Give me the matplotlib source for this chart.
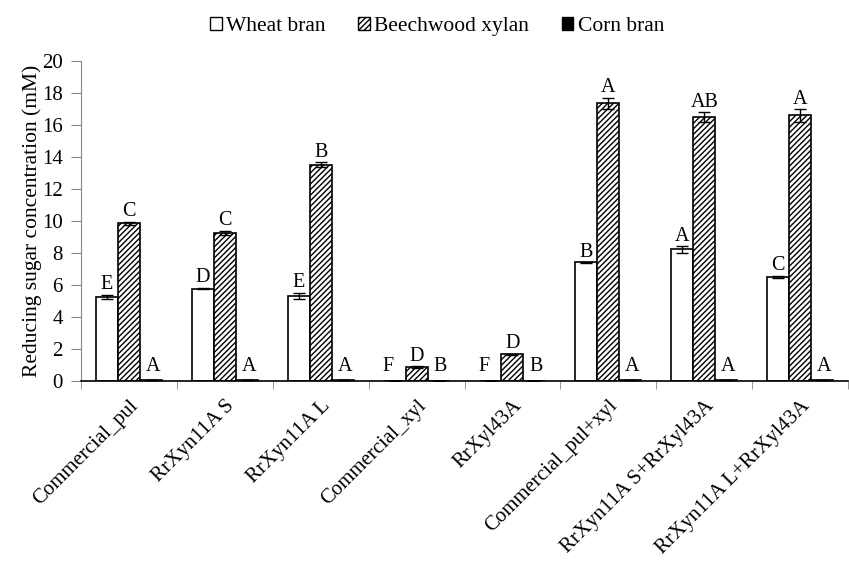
import numpy as np
import matplotlib.pyplot as plt
from matplotlib.patches import Patch

plt.rcParams['font.family'] = ['Liberation Serif', 'DejaVu Serif']
plt.rcParams['hatch.linewidth'] = 1.0

# data
groups = ['Commercial_pul', 'RrXyn11A S', 'RrXyn11A L', 'Commercial_xyl',
          'RrXyl43A', 'Commercial_pul+xyl', 'RrXyn11A S+RrXyl43A', 'RrXyn11A L+RrXyl43A']
wheat = [5.25, 5.78, 5.33, 0.0, 0.0, 7.42, 8.22, 6.52]
wheat_err = [0.15, 0.06, 0.2, 0.0, 0.0, 0.02, 0.2, 0.06]
xylan = [9.85, 9.25, 13.52, 0.88, 1.68, 17.35, 16.5, 16.6]
xylan_err = [0.1, 0.15, 0.15, 0.05, 0.03, 0.35, 0.3, 0.4]
corn = [0.05, 0.04, 0.05, 0.02, 0.02, 0.05, 0.05, 0.05]
corn_err = [0.0] * 8
wheat_lbl = ['E', 'D', 'E', 'F', 'F', 'B', 'A', 'C']
xylan_lbl = ['C', 'C', 'B', 'D', 'D', 'A', 'AB', 'A']
corn_lbl = ['A', 'A', 'A', 'B', 'B', 'A', 'A', 'A']

fig = plt.figure(figsize=(8.49, 5.64), dpi=100)
ax = fig.add_axes([0.0954, 0.3245, 0.9035, 0.5673])

x = np.arange(len(groups))
w = 0.229
series = [(wheat, wheat_err, wheat_lbl, 'white', '', 'Wheat bran'),
          (xylan, xylan_err, xylan_lbl, 'white', '//////', 'Beechwood xylan'),
          (corn, corn_err, corn_lbl, 'black', '', 'Corn bran')]

for i, (vals, err, lbls, fc, hatch, name) in enumerate(series):
    pos = x + (i - 1) * w
    ax.bar(pos, vals, w, color=fc, edgecolor='black', hatch=hatch, linewidth=1.2)
    ax.errorbar(pos, vals, yerr=err, fmt='none', ecolor='black', elinewidth=1, capsize=4)
    for p, v, e, t in zip(pos, vals, err, lbls):
        if i == 2:
            ypos = 0.3
            dx = 0.02
        elif v < 0.5:
            ypos = 0.3
            dx = -0.07
        else:
            ypos = v + e + 0.02
            dx = 0
        ax.text(p + dx, ypos, t, ha='center', va='bottom', fontsize=14.5)

ax.set_xlim(-0.5, len(groups) - 0.5)
ax.set_ylim(0, 20)
ax.set_yticks(np.arange(0, 21, 2))
ax.tick_params(axis='y', direction='out', length=7, color='#888888', labelsize=15, pad=6)
ax.set_xticks(x)
ax.set_xticklabels(groups, rotation=45, ha='right', rotation_mode='anchor', fontsize=15)
ax.tick_params(axis='x', which='major', length=0, pad=11)
ax.set_xticks(np.arange(-0.5, len(groups), 1), minor=True)
ax.tick_params(axis='x', which='minor', direction='out', length=6, color='#888888')
ax.set_ylabel('Reducing sugar concentration (mM)', fontsize=15.5, labelpad=0)

for s in ['top', 'right']:
    ax.spines[s].set_visible(False)
ax.spines['left'].set_color('#888888')
ax.spines['bottom'].set_color('black')
ax.spines['bottom'].set_linewidth(1.2)

handles = [Patch(facecolor='white', edgecolor='black', label='Wheat bran'),
           Patch(facecolor='white', edgecolor='black', hatch='//////', label='Beechwood xylan'),
           Patch(facecolor='black', edgecolor='black', label='Corn bran')]
fig.legend(handles=handles, loc='upper center', bbox_to_anchor=(0.515, 1.005), ncol=3,
           frameon=False, fontsize=15.5, handlelength=0.55, handleheight=0.55,
           handletextpad=0.2, columnspacing=1.5)

fig.savefig('out.png', dpi=100)
